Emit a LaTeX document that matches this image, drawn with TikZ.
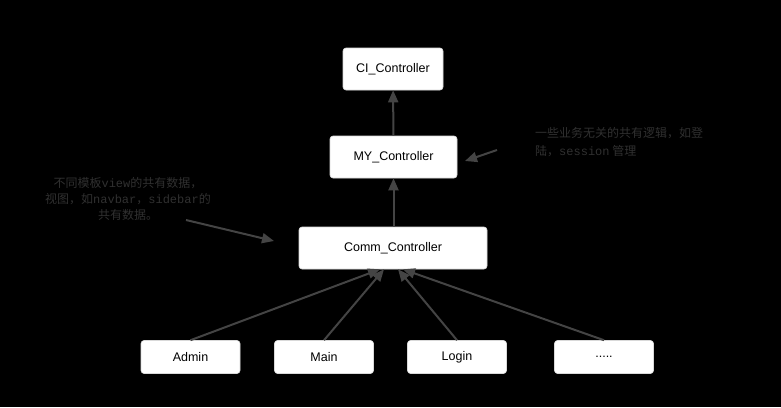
\documentclass[tikz,border=0pt]{standalone}
\usepackage{fontspec}
\setmainfont{Liberation Sans}
\newfontfamily\cjk{Noto Sans CJK SC}
\newfontfamily\mono{Liberation Mono}
\usetikzlibrary{arrows.meta,calc}
\definecolor{linegray}{HTML}{444444}
\definecolor{notegray}{HTML}{303030}
\tikzset{
  classbox/.style={fill=white, draw=white!85!black, line width=0.6pt, rounded corners=3pt,
    font=\fontsize{12.5}{14}\selectfont, text=black, inner sep=0pt},
  bigbox/.style={classbox, minimum height=42pt},
  smallbox/.style={classbox, minimum width=99pt, minimum height=33pt},
  inherit/.style={draw=linegray, line width=2pt, -{Triangle[length=12pt,width=10pt]}, color=linegray},
  note/.style={text=notegray, font=\cjk\fontsize{12}{16}\selectfont, inner sep=0pt},
}
\begin{document}
\begin{tikzpicture}[x=1pt,y=-1pt]
\fill[black] (0,0) rectangle (781,407);
\useasboundingbox (0,0) rectangle (781,407);

\node[bigbox, minimum width=100pt] (ci) at (393,69) {CI\_Controller};
\node[bigbox, minimum width=127pt] (my) at (393.5,157) {MY\_Controller};
\node[bigbox, minimum width=188pt] (comm) at (393,248) {Comm\_Controller};

\node[smallbox] (admin) at (190.5,357) {Admin};
\node[smallbox] (main) at (324,357) {Main};
\node[smallbox] (login) at (457,357) {Login};
\node[smallbox] (more) at (604,357) {.....};

\draw[inherit] (my) -- (ci);
\draw[inherit] (comm.north -| my) -- (my);

\coordinate (t1) at ([xshift=-13pt]comm.south);
\coordinate (t2) at ([xshift=-9pt]comm.south);
\coordinate (t3) at ([xshift=5pt]comm.south);
\coordinate (t4) at ([xshift=10pt]comm.south);
\draw[inherit] (admin.north) -- (t1);
\draw[inherit] (main.north) -- (t2);
\draw[inherit] (login.north) -- (t3);
\draw[inherit] (more.north) -- (t4);

\node[note, anchor=north west, align=left, font=\cjk\fontsize{12}{18}\selectfont] (noteR) at (535,127)
  {一些业务无关的共有逻辑，如登\\陆，{\mono session} 管理};
\node[note, align=center] (noteL) at (128,199)
  {不同模板{\mono view}的共有数据，\\视图，如{\mono navbar}，{\mono sidebar}的\\共有数据。};

\coordinate (aL1) at (186,220);
\coordinate (aL2) at (274,241);
\coordinate (aR1) at (497,150);
\coordinate (aR2) at (465,161);
\draw[inherit] (aL1) -- (aL2);
\draw[inherit] (aR1) -- (aR2);
\end{tikzpicture}
\end{document}
